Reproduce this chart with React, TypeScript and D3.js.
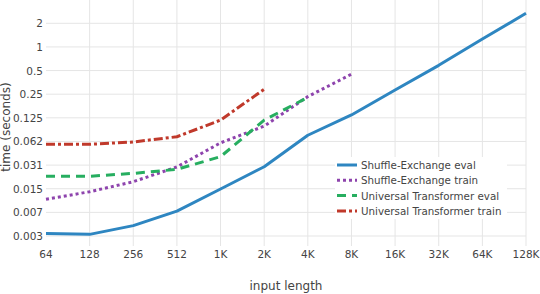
import React, { useEffect, useRef } from 'react';
import * as d3 from 'd3';

// input lengths (log2 axis)
const lengths = [64, 128, 256, 512, 1024, 2048, 4096, 8192, 16384, 32768, 65536, 131072];
const xTickLabels = ['64', '128', '256', '512', '1K', '2K', '4K', '8K', '16K', '32K', '64K', '128K'];
const yTicks = [2, 1, 0.5, 0.25, 0.125, 0.0625, 0.03125, 0.015625, 0.0078125, 0.00390625];
const yTickLabels = ['2', '1', '0.5', '0.25', '0.125', '0.062', '0.031', '0.015', '0.007', '0.003'];

// seconds per step
const shuffleEval = [0.0042, 0.0041, 0.0053, 0.0081, 0.0155, 0.0298, 0.075, 0.136, 0.283, 0.583, 1.26, 2.68];
const shuffleTrain = [0.0115, 0.0143, 0.0192, 0.0296, 0.06, 0.098, 0.233, 0.45];
const utEval = [0.0225, 0.0225, 0.0245, 0.0276, 0.04, 0.117, 0.228];
const utTrain = [0.0575, 0.0575, 0.0616, 0.0718, 0.117, 0.289];

const seriesNames = ['Shuffle-Exchange eval', 'Shuffle-Exchange train', 'Universal Transformer eval', 'Universal Transformer train'];
const seriesColors = ['#2e86c1', '#8e44ad', '#27ae60', '#c0392b'];
const seriesDash = ['none', '3,3', '9,6', '9,3,3,3'];

const App: React.FC = () => {
  const svgRef = useRef<SVGSVGElement | null>(null);

  useEffect(() => {
    if (!svgRef.current) return;
    const svg = d3.select(svgRef.current);
    svg.selectAll('*').remove();

    const width = 540;
    const height = 294;
    const font = '"DejaVu Sans", Verdana, sans-serif';

    const x = d3.scaleLog().base(2).domain([64, 131072]).range([46, 526]);
    const y = d3.scaleLog().base(2).domain([0.00390625, 2]).range([236, 23.3]);

    svg.attr('width', width).attr('height', height);

    // grid
    svg.append('g')
      .selectAll('line')
      .data(lengths.slice(1))
      .enter().append('line')
      .attr('x1', d => x(d)).attr('x2', d => x(d))
      .attr('y1', 0).attr('y2', 246)
      .attr('stroke', '#e5e5e5').attr('stroke-width', 1);

    svg.append('g')
      .selectAll('line')
      .data(yTicks)
      .enter().append('line')
      .attr('x1', 46).attr('x2', 526)
      .attr('y1', d => y(d)).attr('y2', d => y(d))
      .attr('stroke', '#e5e5e5').attr('stroke-width', 1);

    // tick labels
    svg.append('g')
      .selectAll('text')
      .data(lengths)
      .enter().append('text')
      .attr('x', d => x(d)).attr('y', 258)
      .attr('text-anchor', 'middle')
      .attr('font-family', font).attr('font-size', 10.5)
      .attr('fill', '#444')
      .text((d, i) => xTickLabels[i]);

    svg.append('g')
      .selectAll('text')
      .data(yTicks)
      .enter().append('text')
      .attr('x', 43).attr('y', d => y(d) + 4)
      .attr('text-anchor', 'end')
      .attr('font-family', font).attr('font-size', 10.5)
      .attr('fill', '#444')
      .text((d, i) => yTickLabels[i]);

    // axis titles
    svg.append('text')
      .attr('x', 286).attr('y', 290)
      .attr('text-anchor', 'middle')
      .attr('font-family', font).attr('font-size', 12)
      .attr('fill', '#444')
      .text('input length');

    svg.append('text')
      .attr('transform', 'translate(10,127) rotate(-90)')
      .attr('text-anchor', 'middle')
      .attr('font-family', font).attr('font-size', 12)
      .attr('fill', '#444')
      .text('time (seconds)');

    // lines
    const data = [shuffleEval, shuffleTrain, utEval, utTrain];
    const line = d3.line<number>()
      .x((d, i) => x(lengths[i]))
      .y(d => y(d));

    data.forEach((vals, k) => {
      svg.append('path')
        .datum(vals)
        .attr('fill', 'none')
        .attr('stroke', seriesColors[k])
        .attr('stroke-width', 3)
        .attr('stroke-dasharray', seriesDash[k])
        .attr('stroke-linejoin', 'round')
        .attr('d', line);
    });

    // legend
    const lg = svg.append('g').attr('transform', 'translate(335,157)');
    lg.append('rect')
      .attr('x', 0).attr('y', 0)
      .attr('width', 172).attr('height', 62)
      .attr('fill', '#fff');
    seriesNames.forEach((name, k) => {
      const ry = 8 + k * 15.3;
      lg.append('line')
        .attr('x1', 2).attr('x2', 22)
        .attr('y1', ry).attr('y2', ry)
        .attr('stroke', seriesColors[k])
        .attr('stroke-width', 3)
        .attr('stroke-dasharray', seriesDash[k]);
      lg.append('text')
        .attr('x', 26).attr('y', ry + 4)
        .attr('font-family', font).attr('font-size', 10.3)
        .attr('fill', '#444')
        .text(name);
    });
  }, []);

  return <svg ref={svgRef} style={{ position: 'absolute', left: 0, top: 0 }}></svg>;
};

export default App;
